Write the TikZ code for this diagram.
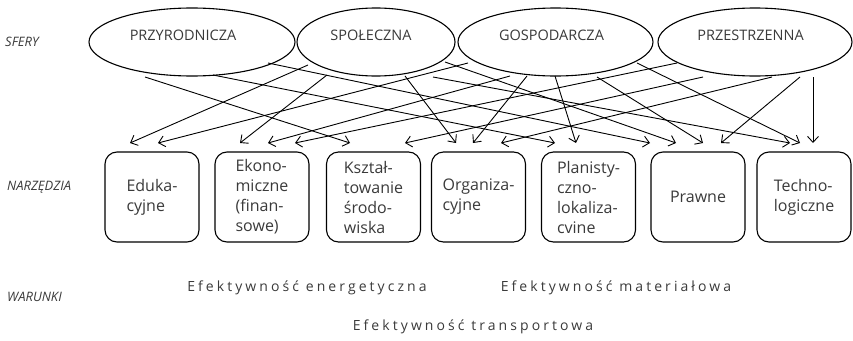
\documentclass[tikz,border=0pt]{standalone}
\usepackage{fontspec}
\setmainfont{Open Sans}
\usetikzlibrary{shapes.geometric,arrows.meta}
\definecolor{ink}{HTML}{3A3A3A}
\begin{document}
\begin{tikzpicture}[x=1pt,y=-1pt,
  sphere/.style={draw, ellipse, line width=1.1pt, inner sep=0pt, minimum height=68pt},
  spheretext/.style={text=ink, font=\fontsize{14.5}{16}\selectfont, inner sep=0pt},
  toolbox/.style={draw, rounded corners=12pt, line width=1.1pt, minimum height=90pt,
    minimum width=94pt, inner sep=0pt, align=left, text=ink,
    font=\fontsize{16}{20}\selectfont},
  rowlabel/.style={text=ink, font=\fontsize{13}{15}\selectfont\itshape, anchor=west, inner sep=0pt},
  cond/.style={text=ink, font=\fontsize{14}{16}\selectfont\addfontfeatures{LetterSpace=22}, inner sep=0pt},
  link/.style={line width=0.9pt, -{Straight Barb[length=6pt,width=11pt,line width=0.9pt]}}
]
\useasboundingbox (0,0) rectangle (853,340);

% row labels
\node[rowlabel] (lab-sf) at (5,42) {SFERY};
\node[rowlabel] (lab-nz) at (7,187) {NARZĘDZIA};
\node[rowlabel] (lab-wr) at (7,297) {WARUNKI};

% spheres
\node[sphere, minimum width=206pt] (P) at (192,42) {};
\node[sphere, minimum width=158pt] (S) at (376,42) {};
\node[sphere, minimum width=195pt] (G) at (555.5,42) {};
\node[sphere, minimum width=194pt] (R) at (755,42) {};
\node[spheretext] (Pt) at (183,35) {PRZYRODNICZA};
\node[spheretext] (St) at (371,35) {SPOŁECZNA};
\node[spheretext] (Gt) at (551.5,35) {GOSPODARCZA};
\node[spheretext] (Rt) at (750.5,35) {PRZESTRZENNA};

% tools
\node[toolbox] (t1) at (152,197) {Eduka-\\cyjne};
\node[toolbox] (t2) at (262,197) {Ekono-\\miczne\\(finan-\\sowe)};
\node[toolbox] (t3) at (373.5,197) {Kształ-\\towanie\\środo-\\wiska};
\node[toolbox] (t4) at (478.5,197) {Organiza-\\cyjne};
\node[toolbox] (t5) at (588.5,197) {Planisty-\\czno-\\lokaliza-\\cvine};
\node[toolbox] (t6) at (698,197) {Prawne};
\node[toolbox] (t7) at (804,197) {Techno-\\logiczne};

% conditions
\node[cond] (c1) at (307,288) {Efektywność energetyczna};
\node[cond] (c2) at (616,288) {Efektywność materiałowa};
\node[cond] (c3) at (473,327) {Efektywność transportowa};

% ports below the spheres
\coordinate (P-a) at (145,77);
\coordinate (P-b) at (213,75);
\coordinate (P-c) at (268,63);
\coordinate (S-a) at (308,65);
\coordinate (S-b) at (327,75);
\coordinate (S-c) at (405,76);
\coordinate (S-d) at (445,62);
\coordinate (S-e) at (433,77);
\coordinate (G-a) at (468,63);
\coordinate (G-b) at (510,76);
\coordinate (G-c) at (527,76);
\coordinate (G-d) at (555,76);
\coordinate (G-e) at (597,77);
\coordinate (G-f) at (637,63);
\coordinate (R-a) at (677,63);
\coordinate (R-b) at (703,77);
\coordinate (R-c) at (772,77);
\coordinate (R-d) at (800,77);
\coordinate (R-e) at (813,77);

% ports above the tools
\coordinate (t1-a) at (130,143);
\coordinate (t1-b) at (158,143);
\coordinate (t2-a) at (240,143);
\coordinate (t2-b) at (268,143);
\coordinate (t2-c) at (295,143);
\coordinate (t3-a) at (350,143);
\coordinate (t3-b) at (405,143);
\coordinate (t4-a) at (456,143);
\coordinate (t4-b) at (473,143);
\coordinate (t4-c) at (501,143);
\coordinate (t5-a) at (555,143);
\coordinate (t5-b) at (576,143);
\coordinate (t6-a) at (650,143);
\coordinate (t6-b) at (676,143);
\coordinate (t6-c) at (703,143);
\coordinate (t6-d) at (721,143);
\coordinate (t7-a) at (790,143);
\coordinate (t7-b) at (800,143);
\coordinate (t7-c) at (813,143);

% sphere -> tool links
\draw[link] (P-a) -- (t3-a);
\draw[link] (P-b) -- (t5-a);
\draw[link] (P-c) -- (t6-a);
\draw[link] (S-a) -- (t1-a);
\draw[link] (S-b) -- (t2-a);
\draw[link] (S-c) -- (t4-a);
\draw[link] (S-d) -- (t6-b);
\draw[link] (S-e) -- (t7-a);
\draw[link] (G-a) -- (t1-b);
\draw[link] (G-b) -- (t2-b);
\draw[link] (G-c) -- (t4-b);
\draw[link] (G-d) -- (t5-b);
\draw[link] (G-e) -- (t6-c);
\draw[link] (G-f) -- (t7-b);
\draw[link] (R-a) -- (t2-c);
\draw[link] (R-b) -- (t3-b);
\draw[link] (R-c) -- (t4-c);
\draw[link] (R-d) -- (t6-d);
\draw[link] (R-e) -- (t7-c);
\end{tikzpicture}
\end{document}
